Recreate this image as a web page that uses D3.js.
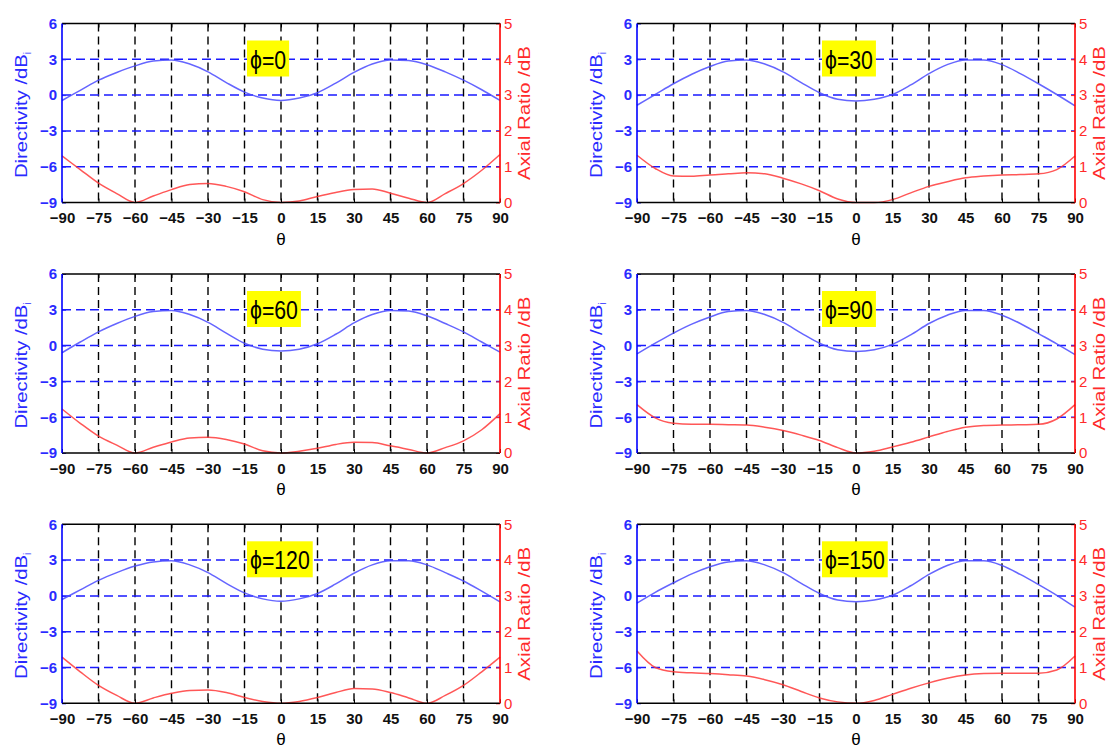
<!DOCTYPE html>
<html>
<head>
<meta charset="utf-8">
<script src="https://cdn.jsdelivr.net/npm/d3@7"></script>
<style>
  html, body { margin: 0; padding: 0; background: #fff; }
  svg { display: block; font-family: "Liberation Sans", Arial, sans-serif; }
</style>
</head>
<body>
<svg id="chart" width="1110" height="749"></svg>
<script>
// ---------------- data ----------------
const theta = [-90,-82.5,-75,-67.5,-60,-52.5,-45,-37.5,-30,-22.5,-15,-7.5,0,7.5,15,22.5,30,37.5,45,52.5,60,67.5,75,82.5,90];
const phiLabels = ["\u03d5=0", "\u03d5=30", "\u03d5=60", "\u03d5=90", "\u03d5=120", "\u03d5=150"];
const xTicks = [-90,-75,-60,-45,-30,-15,0,15,30,45,60,75,90];
const yLeftTicks = [-9,-6,-3,0,3,6];
const yRightTicks = [0,1,2,3,4,5];

// Directivity (dBi) per phi
const dirPhi0   = [-0.45,0.4,1.25,1.9,2.45,2.85,2.95,2.6,1.95,1.05,0.25,-0.25,-0.45,-0.25,0.2,1.0,1.9,2.6,2.95,2.9,2.55,1.95,1.25,0.45,-0.45];
const dirPhi30  = [-0.85,0.05,0.95,1.75,2.4,2.85,2.95,2.6,1.95,1.05,0.2,-0.35,-0.5,-0.35,0.05,0.85,1.8,2.55,2.95,2.95,2.55,1.8,0.95,0.05,-0.9];
const dirPhi60  = [-0.6,0.3,1.15,1.85,2.45,2.85,2.95,2.6,1.95,1.05,0.2,-0.3,-0.45,-0.3,0.15,0.95,1.9,2.6,2.95,2.9,2.5,1.85,1.15,0.3,-0.55];
const dirPhi90  = [-0.7,0.2,1.05,1.8,2.4,2.85,2.95,2.6,1.95,1.05,0.2,-0.35,-0.5,-0.35,0.1,0.9,1.85,2.55,2.95,2.95,2.55,1.85,1.0,0.15,-0.75];
const dirPhi120 = [-0.3,0.5,1.3,1.95,2.5,2.85,2.95,2.6,1.95,1.05,0.25,-0.25,-0.45,-0.25,0.2,1.0,1.9,2.6,2.95,2.95,2.6,1.95,1.25,0.4,-0.5];
const dirPhi150 = [-0.6,0.3,1.1,1.85,2.45,2.85,2.95,2.6,1.95,1.05,0.2,-0.35,-0.5,-0.35,0.05,0.85,1.8,2.55,2.95,2.95,2.55,1.8,0.95,0.05,-0.95];

// Axial ratio (dB) per phi
const arPhi0   = [1.3,0.92,0.54,0.25,0.0,0.18,0.36,0.5,0.53,0.45,0.3,0.08,0.0,0.04,0.17,0.28,0.36,0.38,0.26,0.12,0.0,0.25,0.53,0.9,1.34];
const arPhi30  = [1.32,0.95,0.74,0.73,0.77,0.8,0.83,0.8,0.68,0.52,0.33,0.1,0.0,0.0,0.08,0.27,0.45,0.58,0.69,0.74,0.77,0.78,0.8,0.92,1.3];
const arPhi60  = [1.23,0.83,0.47,0.22,0.0,0.16,0.31,0.42,0.44,0.38,0.25,0.06,0.0,0.05,0.13,0.24,0.3,0.29,0.2,0.1,0.0,0.15,0.34,0.65,1.1];
const arPhi90  = [1.35,0.98,0.83,0.8,0.8,0.79,0.78,0.72,0.63,0.5,0.35,0.15,0.0,0.05,0.17,0.3,0.45,0.6,0.72,0.77,0.78,0.79,0.8,0.95,1.35];
const arPhi120 = [1.29,0.88,0.5,0.22,0.0,0.15,0.28,0.36,0.37,0.3,0.16,0.05,0.0,0.05,0.16,0.3,0.41,0.4,0.3,0.15,0.0,0.22,0.5,0.88,1.29];
const arPhi150 = [1.46,1.0,0.88,0.85,0.83,0.8,0.76,0.66,0.52,0.33,0.15,0.04,0.0,0.08,0.25,0.42,0.57,0.7,0.79,0.83,0.84,0.84,0.84,0.93,1.32];

const dirSeries = [dirPhi0, dirPhi30, dirPhi60, dirPhi90, dirPhi120, dirPhi150];
const arSeries  = [arPhi0, arPhi30, arPhi60, arPhi90, arPhi120, arPhi150];

// ---------------- layout ----------------
const panelLefts = [62, 637];
const panelTops = [23.5, 274, 524.3];
const W = 438, H = 179;
const BLUE = "#2a2aff", RED = "#ff2a2a";
const LINE_BLUE = "#4a4aff", LINE_RED = "#ff3a3a";

const svg = d3.select("#chart");

const x = d3.scaleLinear().domain([-90, 90]).range([0, W]);
const yL = d3.scaleLinear().domain([-9, 6]).range([H, 0]);
const yR = d3.scaleLinear().domain([0, 5]).range([H, 0]);

phiLabels.forEach((lab, i) => {
  const col = i % 2, row = Math.floor(i / 2);
  const g = svg.append("g").attr("transform", `translate(${panelLefts[col]},${panelTops[row]})`);

  // vertical black dashed grid
  g.append("g").selectAll("line").data(xTicks.slice(1, -1)).join("line")
    .attr("x1", d => x(d)).attr("x2", d => x(d))
    .attr("y1", 0).attr("y2", H)
    .attr("stroke", "#000").attr("stroke-width", 1.4)
    .attr("stroke-dasharray", "8,5");

  // horizontal blue dashed grid
  g.append("g").selectAll("line").data(yLeftTicks.slice(1, -1)).join("line")
    .attr("x1", 0).attr("x2", W)
    .attr("y1", d => yL(d)).attr("y2", d => yL(d))
    .attr("stroke", "#1a1aff").attr("stroke-width", 1.5)
    .attr("stroke-dasharray", "9,5");

  // curves
  const pts = (arr, ys) => theta.map((t, k) => [x(t), ys(arr[k])]);
  const line = d3.line().curve(d3.curveMonotoneX);
  g.append("path").attr("d", line(pts(dirSeries[i], yL)))
    .attr("fill", "none").attr("stroke", LINE_BLUE).attr("stroke-width", 1.5).attr("opacity", 0.85);
  g.append("path").attr("d", line(pts(arSeries[i], yR)))
    .attr("fill", "none").attr("stroke", LINE_RED).attr("stroke-width", 1.5).attr("opacity", 0.85);

  // axes
  const xb = g.append("g").attr("transform", `translate(0,${H})`)
    .call(d3.axisBottom(x).tickValues(xTicks).tickSize(-4).tickPadding(7).tickFormat(d3.format("d")));
  xb.select(".domain").remove();
  xb.selectAll("line").attr("stroke", "#000");
  xb.selectAll("text").attr("font-size", 15).attr("font-weight", "bold").attr("fill", "#111").attr("dy", "0.9em");

  const xt = g.append("g")
    .call(d3.axisTop(x).tickValues(xTicks).tickSize(-4).tickFormat(""));
  xt.select(".domain").remove();
  xt.selectAll("line").attr("stroke", "#000");

  const yl = g.append("g")
    .call(d3.axisLeft(yL).tickValues(yLeftTicks).tickSize(-4).tickPadding(5).tickFormat(d3.format("d")));
  yl.select(".domain").remove();
  yl.selectAll("line").attr("stroke", BLUE);
  yl.selectAll("text").attr("font-size", 15).attr("font-weight", "bold").attr("fill", BLUE);

  const yr = g.append("g").attr("transform", `translate(${W},0)`)
    .call(d3.axisRight(yR).tickValues(yRightTicks).tickSize(-4).tickPadding(4).tickFormat(d3.format("d")));
  yr.select(".domain").remove();
  yr.selectAll("line").attr("stroke", RED);
  yr.selectAll("text").attr("font-size", 15).attr("fill", RED);

  // frame
  g.append("line").attr("x1", 0).attr("x2", W).attr("y1", 0).attr("y2", 0).attr("stroke", "#000").attr("stroke-width", 1.6);
  g.append("line").attr("x1", 0).attr("x2", W).attr("y1", H).attr("y2", H).attr("stroke", "#000").attr("stroke-width", 1.6);
  g.append("line").attr("x1", 0).attr("x2", 0).attr("y1", 0).attr("y2", H).attr("stroke", "#0000ff").attr("stroke-width", 1.6);
  g.append("line").attr("x1", W).attr("x2", W).attr("y1", 0).attr("y2", H).attr("stroke", "#ff0000").attr("stroke-width", 1.6);

  // axis titles
  const lt = g.append("text")
    .attr("transform", `translate(-35,${H / 2 + 2}) rotate(-90)`)
    .attr("text-anchor", "middle").attr("font-size", 17).attr("fill", BLUE);
  lt.append("tspan").attr("textLength", 124).attr("lengthAdjust", "spacingAndGlyphs").text("Directivity /dB");
  lt.append("tspan").attr("font-size", 10).attr("dy", 4).text("i");

  g.append("text")
    .attr("transform", `translate(${W + 30},${H / 2}) rotate(-90)`)
    .attr("text-anchor", "middle").attr("font-size", 16).attr("fill", RED)
    .attr("textLength", 134).attr("lengthAdjust", "spacingAndGlyphs")
    .text("Axial Ratio /dB");

  g.append("text")
    .attr("x", W / 2).attr("y", H + 42)
    .attr("text-anchor", "middle").attr("font-size", 17).attr("fill", "#000")
    .text("\u03b8");

  // phi label with yellow box
  const lg = g.append("g").attr("transform", `translate(185,17)`);
  const box = lg.append("rect").attr("fill", "#ffff00");
  const tg = lg.append("g").attr("transform", "translate(3,28) scale(0.85,1)");
  const tx = tg.append("text").attr("font-size", 25).attr("fill", "#000").text(lab);
  const bw = tx.node().getComputedTextLength() * 0.85;
  box.attr("x", 0).attr("y", 0).attr("width", bw + 6).attr("height", 36);
});
</script>
</body>
</html>
